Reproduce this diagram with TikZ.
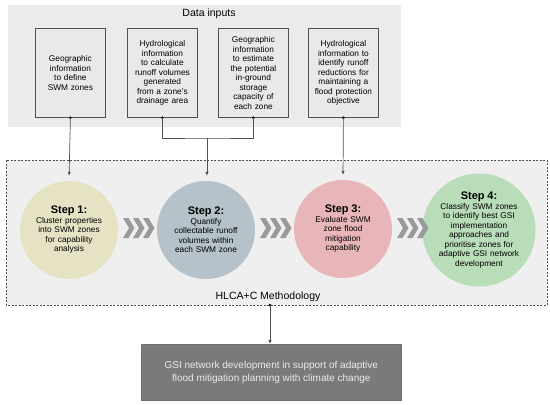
\documentclass[tikz,border=0pt]{standalone}
\usepackage{fontspec}
\setmainfont{Liberation Sans}
\usetikzlibrary{arrows.meta,positioning}
\definecolor{panelgray}{HTML}{EBEBEB}
\definecolor{boxgray}{HTML}{E9E9E9}
\definecolor{linegray}{HTML}{505050}
\definecolor{dashfill}{HTML}{EFEFEF}
\definecolor{stepone}{HTML}{E6E3C4}
\definecolor{steptwo}{HTML}{B5C2CA}
\definecolor{stepthree}{HTML}{E8B5B9}
\definecolor{stepfour}{HTML}{B9DDB9}
\definecolor{chevgray}{HTML}{9A9A9A}
\definecolor{outgray}{HTML}{7A7A7A}
\begin{document}
\begin{tikzpicture}[x=1pt,y=-1pt,
  inbox/.style={draw=linegray,line width=0.8pt,fill=boxgray,minimum width=70pt,minimum height=89pt,
    inner sep=1pt,align=center,text width=68pt,font=\fontsize{8.3}{9.5}\selectfont,anchor=north west},
  stepcirc/.style={circle,minimum size=98pt,inner sep=0pt,align=center,text width=84pt,
    font=\fontsize{8.3}{9.5}\selectfont},
  conn/.style={draw=linegray,line width=0.7pt},
  arr/.style={conn,-{Latex[length=4pt,width=3.5pt]}},
  dotmark/.style={circle,fill=black,inner sep=0pt,minimum size=3pt},
  chev/.style={fill=chevgray}]
\useasboundingbox (0,0) rectangle (550,405);
% panels
\fill[panelgray] (8,5) rectangle (401,127);
\node[font=\fontsize{10.5}{12}\selectfont] (title) at (209,14) {Data inputs};
\fill[dashfill] (6,160) rectangle (547,305);
\draw[linegray,line width=0.8pt,dash pattern=on 2pt off 1.5pt] (6,160) rectangle (547,305);
% input boxes
\node[inbox] (b1) at (35,28) {Geographic\\information\\to define\\SWM zones};
\node[inbox] (b2) at (127,28) {Hydrological\\information\\to calculate\\runoff volumes\\generated\\from a zone's\\drainage area};
\node[inbox] (b3) at (218,28) {Geographic\\information\\to estimate\\the potential\\in-ground\\storage\\capacity of\\each zone};
\node[inbox] (b4) at (308,28) {Hydrological\\information to\\identify runoff\\reductions for\\maintaining a\\flood protection\\objective};
% steps
\node[stepcirc,fill=stepone] (s1) at (69,230) {{\fontsize{11}{12}\selectfont\bfseries Step 1:}\\Cluster properties\\into SWM zones\\for capability\\analysis};
\node[stepcirc,fill=steptwo] (s2) at (206,230) {{\fontsize{11}{12}\selectfont\bfseries Step 2:}\\Quantify\\collectable runoff\\volumes within\\each SWM zone};
\node[stepcirc,fill=stepthree] (s3) at (343,229) {{\fontsize{11}{12}\selectfont\bfseries Step 3:}\\Evaluate SWM\\zone flood\\mitigation\\capability};
\node[stepcirc,fill=stepfour] (s4) at (479,230) {{\fontsize{11}{12}\selectfont\bfseries Step 4:}\\Classify SWM zones\\to identify best GSI\\implementation\\approaches and\\prioritise zones for\\adaptive GSI network\\development};
\node[font=\fontsize{10.5}{12}\selectfont] (meth) at (268,297) {HLCA+C Methodology};
% chevrons
\foreach \cx/\cy in {123/228, 260/228, 397/228}{
  \foreach \k in {0,10,20}{
    \fill[chev] (\cx+\k,\cy-10) -- (\cx+\k+5.5,\cy-10) -- (\cx+\k+11.5,\cy) -- (\cx+\k+5.5,\cy+10) -- (\cx+\k,\cy+10) -- (\cx+\k+6,\cy) -- cycle;
  }
}
% output box
\node[draw=outgray!90!black,fill=outgray,line width=0.6pt,anchor=north west,minimum width=260pt,minimum height=56pt,
  align=center,text=white!92!black,font=\fontsize{10}{13}\selectfont] (out) at (141,344)
  {GSI network development in support of adaptive\\flood mitigation planning with climate change};
% connectors
\node[dotmark] at (b1.south) {};
\node[dotmark] at (b2.south) {};
\node[dotmark] at (b3.south) {};
\node[dotmark] at (b4.south) {};
\draw[arr,shorten >=5pt] (b1.south) -- (s1.north);
\draw[arr,shorten >=5pt] (b4.south) -- (s3.north);
\coordinate (j) at (207,138);
\draw[conn] (b2.south) |- (j) -| (b3.south);
\draw[arr,shorten >=5pt] (j) -- (j |- s2.north);
\coordinate (mb) at (270,305);
\node[dotmark] at (mb) {};
\draw[arr,line width=1pt] (mb) -- (mb |- out.north);
\end{tikzpicture}
\end{document}
